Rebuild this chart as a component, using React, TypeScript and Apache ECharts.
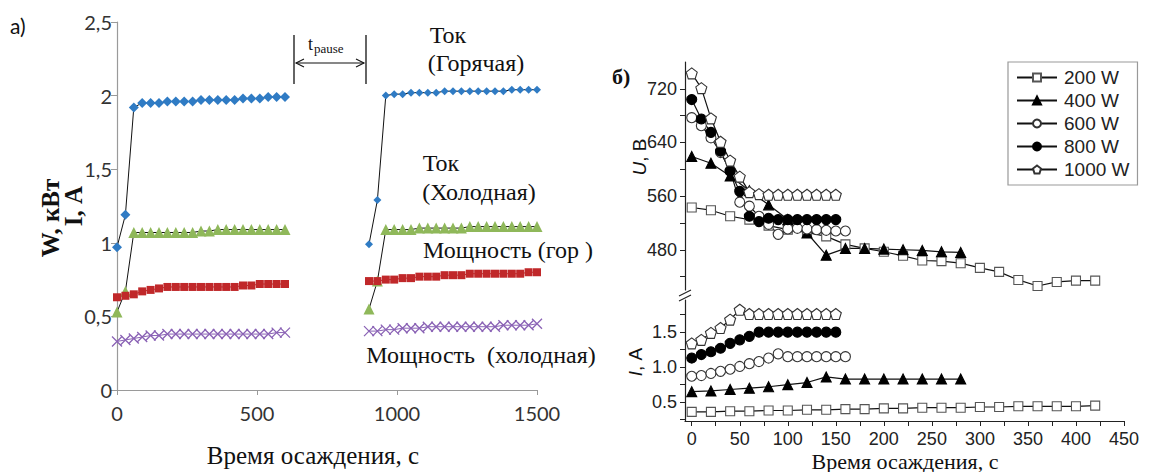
import React, { useEffect, useRef } from "react";
import * as echarts from "echarts";

// ---------- Panel a) data ----------
const timeHotA = [0, 30, 60, 90, 120, 150, 180, 210, 240, 270, 300, 330, 360, 390, 420, 450, 480, 510, 540, 570, 600];
const timeHotB = [900, 930, 960, 990, 1020, 1050, 1080, 1110, 1140, 1170, 1200, 1230, 1260, 1290, 1320, 1350, 1380, 1410, 1440, 1470, 1500];
const currentHotA = [0.97, 1.19, 1.92, 1.95, 1.95, 1.95, 1.96, 1.96, 1.96, 1.96, 1.97, 1.97, 1.97, 1.97, 1.97, 1.98, 1.98, 1.98, 1.99, 1.99, 1.99];
const currentHotB = [0.99, 1.29, 2.0, 2.01, 2.01, 2.02, 2.02, 2.02, 2.02, 2.03, 2.03, 2.03, 2.03, 2.03, 2.03, 2.03, 2.03, 2.04, 2.04, 2.04, 2.04];
const currentColdA = [0.53, 0.67, 1.07, 1.07, 1.07, 1.07, 1.07, 1.07, 1.07, 1.07, 1.08, 1.08, 1.09, 1.09, 1.09, 1.09, 1.09, 1.09, 1.09, 1.09, 1.09];
const currentColdB = [0.55, 0.74, 1.09, 1.09, 1.09, 1.09, 1.1, 1.1, 1.1, 1.1, 1.1, 1.1, 1.11, 1.11, 1.11, 1.11, 1.11, 1.11, 1.11, 1.11, 1.11];
const powerHotA = [0.63, 0.64, 0.65, 0.67, 0.68, 0.69, 0.7, 0.7, 0.7, 0.7, 0.7, 0.7, 0.7, 0.7, 0.7, 0.71, 0.71, 0.72, 0.72, 0.72, 0.72];
const powerHotB = [0.74, 0.74, 0.75, 0.75, 0.76, 0.76, 0.77, 0.77, 0.77, 0.78, 0.78, 0.78, 0.79, 0.79, 0.79, 0.79, 0.79, 0.79, 0.79, 0.8, 0.8];
const powerColdA = [0.33, 0.34, 0.35, 0.36, 0.37, 0.37, 0.38, 0.38, 0.38, 0.38, 0.38, 0.38, 0.38, 0.38, 0.38, 0.38, 0.38, 0.38, 0.38, 0.39, 0.39];
const powerColdB = [0.4, 0.4, 0.41, 0.41, 0.42, 0.42, 0.42, 0.43, 0.43, 0.43, 0.43, 0.43, 0.43, 0.43, 0.43, 0.43, 0.44, 0.44, 0.44, 0.44, 0.45];
const leftXTicks = [0, 500, 1000, 1500];

// ---------- Panel б) data ----------
const t200 = [0, 20, 40, 60, 80, 100, 120, 140, 160, 180, 200, 220, 240, 260, 280, 300, 320, 340, 360, 380, 400, 420];
const t400 = [0, 20, 40, 60, 80, 100, 120, 140, 160, 180, 200, 220, 240, 260, 280];
const t600 = [0, 10, 20, 30, 40, 50, 60, 70, 80, 90, 100, 110, 120, 130, 140, 150, 160];
const t800 = [0, 10, 20, 30, 40, 50, 60, 70, 80, 90, 100, 110, 120, 130, 140, 150];
const t1000 = [0, 10, 20, 30, 40, 50, 60, 70, 80, 90, 100, 110, 120, 130, 140, 150];

const U200 = [543, 539, 530, 525, 516, 510, 506, 500, 488, 482, 477, 471, 464, 463, 460, 453, 447, 435, 426, 432, 434, 434];
const U400 = [619, 609, 590, 568, 547, 525, 505, 472, 482, 482, 481, 480, 479, 477, 476];
const U600 = [677, 665, 647, 625, 598, 551, 545, 530, 518, 503, 511, 512, 511, 510, 509, 508, 508];
const U800 = [704, 675, 655, 627, 597, 567, 530, 522, 527, 525, 525, 525, 525, 525, 525, 525];
const U1000 = [743, 721, 676, 641, 613, 589, 566, 563, 562, 562, 562, 562, 562, 562, 562, 562];

const I200 = [0.36, 0.36, 0.37, 0.37, 0.38, 0.38, 0.39, 0.39, 0.4, 0.4, 0.41, 0.41, 0.42, 0.42, 0.42, 0.43, 0.43, 0.44, 0.44, 0.44, 0.44, 0.45];
const I400 = [0.65, 0.66, 0.68, 0.7, 0.72, 0.75, 0.78, 0.86, 0.83, 0.83, 0.83, 0.83, 0.83, 0.83, 0.83];
const I600 = [0.87, 0.88, 0.91, 0.94, 0.97, 1.01, 1.05, 1.08, 1.13, 1.19, 1.15, 1.15, 1.15, 1.15, 1.15, 1.15, 1.15];
const I800 = [1.13, 1.18, 1.22, 1.27, 1.34, 1.39, 1.44, 1.5, 1.5, 1.5, 1.5, 1.5, 1.5, 1.5, 1.5, 1.5];
const I1000 = [1.34, 1.39, 1.49, 1.56, 1.68, 1.82, 1.76, 1.76, 1.76, 1.76, 1.76, 1.76, 1.76, 1.76, 1.76, 1.76];

const powerNames = ["200 W", "400 W", "600 W", "800 W", "1000 W"];
const rightXLabels = [0, 50, 100, 150, 200, 250, 300, 350, 400, 450];
const rightXTicks = [0, 25, 50, 75, 100, 125, 150, 175, 200, 225, 250, 275, 300, 325, 350, 375, 400, 425, 450];
const uLabels = [480, 560, 640, 720];
const uTicks = [440, 480, 520, 560, 600, 640, 680, 720];
const iLabels = [0.5, 1.0, 1.5];
const iTicks = [0.25, 0.5, 0.75, 1.0, 1.25, 1.5, 1.75];

const pair = (xs: number[], ys: number[]) => xs.map((x, i) => [x, ys[i]]);

const SERIF = "'Liberation Serif', 'DejaVu Serif', serif";
const SANS = "'Liberation Sans', Arial, sans-serif";
const CAL = "Lato, 'Open Sans', sans-serif";

const crossPath = "path://M0,0L10,10M10,0L0,10";
const pentagonPath = "path://M0,-10L9.51,-3.09L5.88,8.09L-5.88,8.09L-9.51,-3.09Z";

export default function App() {
  const ref = useRef<HTMLDivElement>(null);

  useEffect(() => {
    if (!ref.current) return;
    const chart = echarts.init(ref.current, undefined, { renderer: "svg" });

    const leftSeries = (
      name: string,
      xs: number[],
      ys: number[],
      color: string,
      lineColor: string,
      symbol: string,
      size: number,
      extra: any = {}
    ) => ({
      type: "line",
      name,
      xAxisIndex: 0,
      yAxisIndex: 0,
      data: pair(xs, ys),
      symbol,
      symbolSize: size,
      showSymbol: true,
      lineStyle: { color: lineColor, width: 1 },
      itemStyle: { color, borderColor: color, borderWidth: 0, ...extra },
      emphasis: { disabled: true },
    });

    const blue = "#2f7bc4";
    const green = "#8fb85a";
    const red = "#c0282a";
    const purple = "#8a62b5";

    const series: any[] = [
      leftSeries("hotA", timeHotA, currentHotA, blue, "#111", "diamond", 10),
      leftSeries("hotB", timeHotB, currentHotB, blue, "#111", "diamond", 8),
      leftSeries("coldA", timeHotA, currentColdA, green, "#111", "triangle", 11),
      leftSeries("coldB", timeHotB, currentColdB, green, "#111", "triangle", 11),
      leftSeries("pHotA", timeHotA, powerHotA, red, red, "rect", 8),
      leftSeries("pHotB", timeHotB, powerHotB, red, red, "rect", 8),
      leftSeries("pColdA", timeHotA, powerColdA, "rgba(0,0,0,0)", purple, crossPath, 10, { borderColor: purple, borderWidth: 1.3 }),
      leftSeries("pColdB", timeHotB, powerColdB, "rgba(0,0,0,0)", purple, crossPath, 10, { borderColor: purple, borderWidth: 1.3 }),
    ];

    const styles: Record<string, any> = {
      "200 W": { symbol: "rect", size: 9, fill: "#fff", border: "#555" },
      "400 W": { symbol: "triangle", size: 10, fill: "#000", border: "#000" },
      "600 W": { symbol: "circle", size: 10, fill: "#fff", border: "#333" },
      "800 W": { symbol: "circle", size: 10, fill: "#000", border: "#000" },
      "1000 W": { symbol: pentagonPath, size: 11, fill: "#fff", border: "#333" },
    };
    const uData: Record<string, number[][]> = {
      "200 W": pair(t200, U200),
      "400 W": pair(t400, U400),
      "600 W": pair(t600, U600),
      "800 W": pair(t800, U800),
      "1000 W": pair(t1000, U1000),
    };
    const iData: Record<string, number[][]> = {
      "200 W": pair(t200, I200),
      "400 W": pair(t400, I400),
      "600 W": pair(t600, I600),
      "800 W": pair(t800, I800),
      "1000 W": pair(t1000, I1000),
    };
    powerNames.forEach((n) => {
      const s = styles[n];
      [
        [1, uData[n]],
        [2, iData[n]],
      ].forEach(([gi, d]: any) => {
        series.push({
          type: "line",
          name: n,
          xAxisIndex: gi,
          yAxisIndex: gi,
          data: d,
          symbol: s.symbol,
          symbolSize: s.size,
          showSymbol: true,
          lineStyle: { color: "#111", width: 1.2 },
          itemStyle: { color: s.fill, borderColor: s.border, borderWidth: 1.1 },
          emphasis: { disabled: true },
        });
      });
    });

    const grayAxis = { lineStyle: { color: "#9a9a9a", width: 1.2 } };
    const blackAxis = { lineStyle: { color: "#222", width: 1.2 } };

    const txt = (x: number, y: number, text: string, font: any, align = "center", rotation = 0) => ({
      type: "text",
      x,
      y,
      rotation,
      style: {
        text,
        fill: "#111",
        align,
        verticalAlign: "middle",
        ...font,
      },
      silent: true,
    });

    const serifBig = { fontFamily: SERIF, fontSize: 24 };

    const option: any = {
      animation: false,
      backgroundColor: "#fff",
      grid: [
        { left: 117, top: 22, width: 420, height: 368 },
        { left: 685, top: 62, width: 439, height: 228 },
        { left: 685, top: 300, width: 439, height: 121 },
      ],
      xAxis: [
        {
          gridIndex: 0,
          type: "value",
          min: 0,
          max: 1500,
          interval: 500,
          axisLine: grayAxis,
          axisTick: { show: true, length: 5, lineStyle: { color: "#9a9a9a" } },
          splitLine: { show: false },
          axisLabel: {
            customValues: leftXTicks,
            fontSize: 20,
            fontFamily: CAL,
            color: "#333",
            margin: 13,
            formatter: (v: number) => String(v),
          },
        },
        { gridIndex: 1, type: "value", min: -7, max: 450, show: false },
        {
          gridIndex: 2,
          type: "value",
          min: -7,
          max: 450,
          axisLine: { ...blackAxis, onZero: false },
          axisTick: { customValues: rightXTicks, length: 5, lineStyle: { color: "#222" } },
          splitLine: { show: false },
          axisLabel: {
            customValues: rightXLabels,
            fontSize: 18,
            fontFamily: SANS,
            color: "#222",
            margin: 9,
          },
        },
      ],
      yAxis: [
        {
          gridIndex: 0,
          type: "value",
          min: 0,
          max: 2.5,
          interval: 0.5,
          axisLine: { show: true, ...grayAxis },
          axisTick: { show: true, length: 6, lineStyle: { color: "#9a9a9a" } },
          splitLine: { show: false },
          axisLabel: {
            fontSize: 20,
            fontFamily: CAL,
            color: "#333",
            margin: 5,
            formatter: (v: number) => String(v).replace(".", ","),
          },
        },
        {
          gridIndex: 1,
          type: "value",
          min: 420,
          max: 760,
          axisLine: { show: true, onZero: false, ...blackAxis },
          axisTick: { show: true, customValues: uTicks, length: 5, lineStyle: { color: "#222" } },
          splitLine: { show: false },
          axisLabel: {
            customValues: uLabels,
            fontSize: 18,
            fontFamily: SANS,
            color: "#222",
            margin: 8,
          },
        },
        {
          gridIndex: 2,
          type: "value",
          min: 0.23,
          max: 1.96,
          axisLine: { show: true, onZero: false, ...blackAxis },
          axisTick: { show: true, customValues: iTicks, length: 5, lineStyle: { color: "#222" } },
          splitLine: { show: false },
          axisLabel: {
            customValues: iLabels,
            fontSize: 18,
            fontFamily: SANS,
            color: "#222",
            margin: 8,
            formatter: (v: number) => v.toFixed(1),
          },
        },
      ],
      legend: {
        data: powerNames,
        orient: "vertical",
        left: 1008,
        top: 62,
        padding: [6, 8, 6, 8],
        itemGap: 4,
        itemWidth: 40,
        itemHeight: 10,
        borderColor: "#999",
        borderWidth: 1.2,
        backgroundColor: "#fff",
        textStyle: { fontSize: 19, fontFamily: SANS, color: "#222", padding: [0, 0, 0, 2] },
        selectedMode: false,
      },
      series,
      graphic: [
        // panel a) labels
        txt(10, 25, "а)", { fontFamily: CAL, fontSize: 21 }, "left"),
        txt(50, 218, "W, кВт", { fontFamily: SERIF, fontSize: 25, fontWeight: "bold" }, "center", Math.PI / 2),
        txt(73, 206, "I, А", { fontFamily: SERIF, fontSize: 25, fontWeight: "bold" }, "center", Math.PI / 2),
        txt(313, 455, "Время осаждения, с", { fontFamily: SERIF, fontSize: 25 }),
        txt(448, 35, "Ток", serifBig),
        txt(476, 63, "(Горячая)", serifBig),
        txt(441, 163, "Ток", serifBig),
        txt(479, 192, "(Холодная)", serifBig),
        txt(508, 250, "Мощность (гор )", serifBig),
        txt(481, 355, "Мощность  (холодная)", serifBig),
        // t_pause annotation
        { type: "line", shape: { x1: 294, y1: 35, x2: 294, y2: 84 }, style: { stroke: "#111", lineWidth: 1.3 }, silent: true },
        { type: "line", shape: { x1: 366, y1: 35, x2: 366, y2: 84 }, style: { stroke: "#111", lineWidth: 1.3 }, silent: true },
        { type: "line", shape: { x1: 296, y1: 63, x2: 364, y2: 63 }, style: { stroke: "#111", lineWidth: 1.2 }, silent: true },
        { type: "polyline", shape: { points: [[304, 59], [296, 63], [304, 67]] }, style: { stroke: "#111", fill: "none", lineWidth: 1.1 }, silent: true },
        { type: "polyline", shape: { points: [[356, 59], [364, 63], [356, 67]] }, style: { stroke: "#111", fill: "none", lineWidth: 1.1 }, silent: true },
        txt(308, 44, "t", { fontFamily: SERIF, fontSize: 18 }, "left"),
        txt(314, 48, "pause", { fontFamily: SERIF, fontSize: 13 }, "left"),
        // panel б) labels
        txt(612, 76, "б)", { fontFamily: SERIF, fontSize: 22, fontWeight: "bold" }, "left"),
        {
          type: "text",
          x: 639,
          y: 157,
          rotation: Math.PI / 2,
          style: {
            text: "{i|U}{n|, В}",
            align: "center",
            verticalAlign: "middle",
            rich: {
              i: { fontFamily: SANS, fontSize: 19, fontStyle: "italic", fill: "#111" },
              n: { fontFamily: SANS, fontSize: 19, fill: "#111" },
            },
          },
          silent: true,
        },
        {
          type: "text",
          x: 635,
          y: 362,
          rotation: Math.PI / 2,
          style: {
            text: "{i|I}{n|, А}",
            align: "center",
            verticalAlign: "middle",
            rich: {
              i: { fontFamily: SANS, fontSize: 19, fontStyle: "italic", fill: "#111" },
              n: { fontFamily: SANS, fontSize: 19, fill: "#111" },
            },
          },
          silent: true,
        },
        txt(905, 461, "Время осаждения, с", { fontFamily: SERIF, fontSize: 22 }),
        // axis break marks
        { type: "rect", shape: { x: 680, y: 291, width: 11, height: 9 }, style: { fill: "#fff" }, silent: true },
        { type: "line", shape: { x1: 679, y1: 296, x2: 691, y2: 290 }, style: { stroke: "#222", lineWidth: 1.2 }, silent: true },
        { type: "line", shape: { x1: 679, y1: 301, x2: 691, y2: 295 }, style: { stroke: "#222", lineWidth: 1.2 }, silent: true },
      ],
    };

    chart.setOption(option);
    return () => chart.dispose();
  }, []);

  return (
    <div
      ref={ref}
      style={{ position: "absolute", left: 0, top: 0, width: 1151, height: 472, background: "#fff" }}
    />
  );
}
